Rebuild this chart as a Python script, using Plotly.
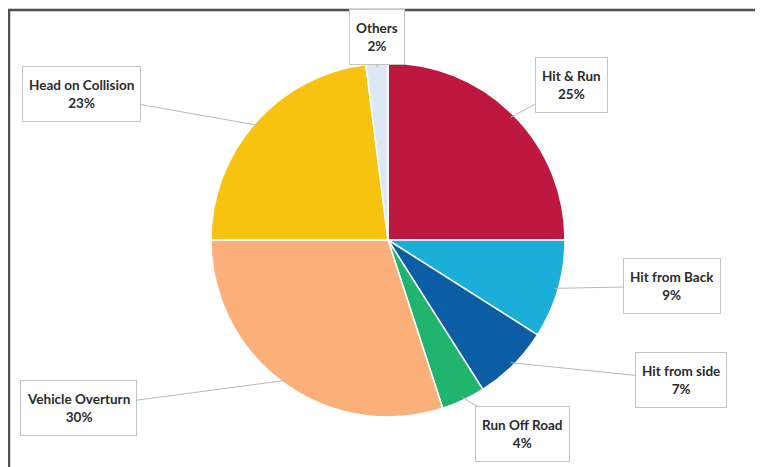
import math
import plotly.graph_objects as go

# ---- data ----
categories = ["Hit & Run", "Hit from Back", "Hit from side", "Run Off Road",
              "Vehicle Overturn", "Head on Collision", "Others"]
values = [25, 9, 7, 4, 30, 23, 2]
colors = ["#BF1840", "#1AAED8", "#0B5EA3", "#20B46F", "#FBB07A", "#F8C210", "#DCE9F4"]

# ---- layout (window pixels; page body has an 8px margin) ----
OFF = 8
WIN_W, WIN_H = 763, 467
W, H = WIN_W - OFF, WIN_H - OFF
CX, CY, R = 388 - OFF, 240 - OFF, 177
# label box centers (window pixel coords)
label_pos = [(571, 85), (672, 286), (681, 380), (522, 434),
             (78, 408), (81, 94), (377, 37)]

fig = go.Figure()
fig.add_trace(go.Pie(
    labels=categories, values=values, sort=False, direction="clockwise",
    rotation=0, marker=dict(colors=colors, line=dict(color="white", width=1.5)),
    textinfo="none", hoverinfo="label+percent", showlegend=False,
    domain=dict(x=[(CX - R) / W, (CX + R) / W],
                y=[(H - CY - R) / H, (H - CY + R) / H]),
))

total = sum(values)
cum = 0
annotations = []
for cat, v, (lx, ly) in zip(categories, values, label_pos):
    lx, ly = lx - OFF, ly - OFF
    mid = (cum + v / 2) / total
    cum += v
    ang = 2 * math.pi * mid
    px = CX + R * 0.98 * math.sin(ang)
    py = CY - R * 0.98 * math.cos(ang)
    pct = round(100 * v / total)
    annotations.append(dict(
        x=px / W, y=1 - py / H, xref="paper", yref="paper",
        ax=lx - px, ay=ly - py, axref="pixel", ayref="pixel",
        text=f"<b>{cat}</b><br><b>{pct}%</b>",
        showarrow=True, arrowhead=0, arrowwidth=1, arrowcolor="#B8B8B8",
        font=dict(family="Lato, Carlito, sans-serif", size=13.5, color="#2B2B2B"),
        bgcolor="white", bordercolor="#C4C4C4", borderwidth=1, borderpad=6,
        height=42, valign="middle", align="center",
    ))

shapes = [
    dict(type="line", xref="paper", yref="paper", x0=0, x1=(756 - OFF) / W,
         y0=1 - 2 / H, y1=1 - 2 / H, line=dict(color="#505050", width=2.5)),
    dict(type="line", xref="paper", yref="paper", x0=1 / W, x1=1 / W,
         y0=0, y1=1 - 1 / H, line=dict(color="#505050", width=2.5)),
]

fig.update_layout(
    width=W, height=H, margin=dict(l=0, r=0, t=0, b=0),
    paper_bgcolor="white", plot_bgcolor="white",
    annotations=annotations, shapes=shapes,
)
fig.write_html("out.html")
